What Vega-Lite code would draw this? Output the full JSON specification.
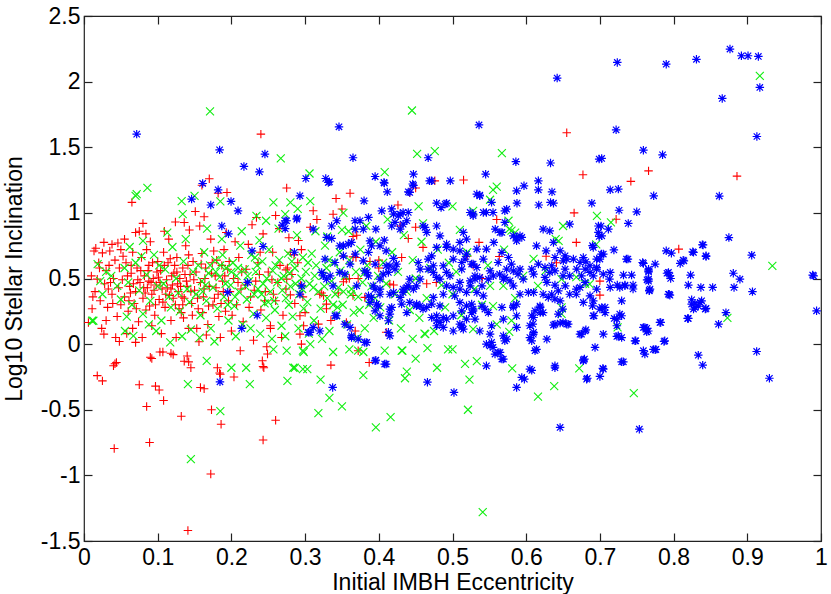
{
  "$schema": "https://vega.github.io/schema/vega-lite/v6.json",
  "width": 737,
  "height": 525,
  "autosize": "none",
  "padding": {"left": 84, "top": 16, "right": 10, "bottom": 53},
  "background": "white",
  "config": {
    "view": {"stroke": "#222222", "strokeWidth": 1.2},
    "font": "Liberation Sans",
    "axis": {
      "labelFont": "Liberation Sans", "titleFont": "Liberation Sans",
      "labelFontSize": 23, "titleFontSize": 23, "labelColor": "black", "titleColor": "black",
      "titleFontWeight": "normal", "grid": false, "domain": false,
      "tickColor": "#222222", "tickSize": -8, "tickWidth": 1.2,
      "labelFlush": false, "labelOverlap": false
    }
  },
  "datasets": {
    "red": [
      {"x":0.24,"y":1.6},{"x":0.17,"y":1.26},{"x":0.16,"y":1.21},{"x":0.275,"y":1.19},{"x":0.182,"y":1.15},{"x":0.194,"y":1.155},{"x":0.065,"y":1.08},{"x":0.151,"y":1.01},{"x":0.163,"y":0.97},{"x":0.234,"y":0.965},{"x":0.26,"y":0.98},{"x":0.08,"y":0.92},{"x":0.124,"y":0.93},{"x":0.136,"y":0.927},{"x":0.07,"y":0.85},{"x":0.084,"y":0.84},{"x":0.109,"y":0.86},
      {"x":0.006,"y":0.165},{"x":0.018,"y":-0.24},{"x":0.025,"y":-0.28},{"x":0.04,"y":-0.165},{"x":0.044,"y":-0.14},{"x":0.075,"y":-0.31},{"x":0.097,"y":-0.32},{"x":0.102,"y":-0.35},{"x":0.108,"y":-0.43},{"x":0.085,"y":-0.475},{"x":0.132,"y":-0.55},{"x":0.173,"y":-0.5},{"x":0.186,"y":-0.61},{"x":0.089,"y":-0.75},{"x":0.041,"y":-0.795},{"x":0.172,"y":-0.99},{"x":0.141,"y":-1.42},{"x":0.243,"y":-0.73},{"x":0.26,"y":-0.58},{"x":0.163,"y":-0.34},{"x":0.158,"y":-0.33},{"x":0.2035,"y":-0.25},{"x":0.142,"y":-0.135},{"x":0.145,"y":-0.18},{"x":0.181,"y":-0.18},{"x":0.184,"y":-0.22},{"x":0.242,"y":-0.127},{"x":0.243,"y":-0.17},{"x":0.092,"y":-0.11},{"x":0.107,"y":-0.06},{"x":0.121,"y":-0.08},
      {"x":0.0136,"y":0.71},{"x":0.027,"y":0.775},{"x":0.038,"y":0.76},{"x":0.05,"y":0.72},{"x":0.025,"y":0.695},{"x":0.018,"y":0.495},{"x":0.027,"y":0.076},{"x":0.043,"y":0.05},{"x":0.048,"y":0.02},{"x":0.07,"y":0.013},{"x":0.042,"y":-0.15},{"x":0.09,"y":-0.1},{"x":0.103,"y":-0.06},{"x":0.118,"y":-0.07},{"x":0.136,"y":-0.13},{"x":0.14,"y":-0.09},{"x":0.156,"y":0.018},{"x":0.185,"y":-0.23},{"x":0.244,"y":-0.18},{"x":0.249,"y":-0.075},{"x":0.253,"y":0.14},
      {"x":0.361,"y":1.15},{"x":0.342,"y":1.11},{"x":0.35,"y":1.03},{"x":0.338,"y":0.99},{"x":0.311,"y":1.016},{"x":0.316,"y":0.95},{"x":0.307,"y":0.89},{"x":0.426,"y":1.06},{"x":0.442,"y":1.156},{"x":0.476,"y":1.244},{"x":0.515,"y":1.25},{"x":0.655,"y":1.61},{"x":0.677,"y":1.29},{"x":0.665,"y":1.0},{"x":0.668,"y":0.775},{"x":0.627,"y":0.67},{"x":0.5635,"y":0.668},{"x":0.56,"y":0.95},{"x":0.536,"y":0.775},{"x":0.528,"y":0.6},{"x":0.52,"y":0.67},{"x":0.429,"y":0.9},{"x":0.45,"y":0.89},{"x":0.365,"y":0.82},{"x":0.37,"y":0.83},{"x":0.44,"y":0.805},{"x":0.46,"y":0.737},{"x":0.352,"y":0.67},{"x":0.365,"y":0.665},{"x":0.415,"y":0.457},{"x":0.431,"y":0.66},{"x":0.3225,"y":0.39},{"x":0.352,"y":0.475},{"x":0.478,"y":0.47},{"x":0.54,"y":0.5},{"x":0.641,"y":0.62},{"x":0.766,"y":1.32},{"x":0.742,"y":1.24},{"x":0.886,"y":1.28},{"x":0.722,"y":0.952},{"x":0.807,"y":0.724},{"x":0.7,"y":0.48},{"x":0.7,"y":0.373},
      {"x":0.291,"y":0.79},{"x":0.295,"y":0.72},{"x":0.28,"y":0.7},{"x":0.369,"y":0.66},{"x":0.388,"y":0.63},{"x":0.4,"y":0.64},{"x":0.274,"y":0.566},{"x":0.275,"y":0.495},{"x":0.356,"y":0.495},{"x":0.36,"y":0.5},{"x":0.372,"y":0.5},{"x":0.4,"y":0.58},{"x":0.42,"y":0.45},{"x":0.465,"y":0.46},{"x":0.32,"y":0.38},{"x":0.325,"y":0.37},{"x":0.345,"y":0.39},{"x":0.365,"y":0.37},{"x":0.381,"y":0.356},{"x":0.28,"y":0.375},{"x":0.293,"y":0.216},{"x":0.3,"y":0.24},{"x":0.329,"y":0.305},{"x":0.329,"y":0.27},{"x":0.318,"y":0.152},{"x":0.335,"y":0.18},{"x":0.356,"y":0.165},{"x":0.368,"y":0.1},{"x":0.293,"y":0.076},{"x":0.295,"y":0.0},{"x":0.372,"y":-0.05},{"x":0.41,"y":0.09},{"x":0.387,"y":-0.14},{"x":0.335,"y":-0.16},{"x":0.45,"y":1.19},
      {"x":0.01,"y":0.52},{"x":0.015,"y":0.4},{"x":0.02,"y":0.62},{"x":0.022,"y":0.33},{"x":0.028,"y":0.46},{"x":0.03,"y":0.56},{"x":0.032,"y":0.28},{"x":0.035,"y":0.71},{"x":0.038,"y":0.38},{"x":0.04,"y":0.5},{"x":0.042,"y":0.64},{"x":0.045,"y":0.21},{"x":0.047,"y":0.43},{"x":0.05,"y":0.3},{"x":0.011,"y":0.27},{"x":0.016,"y":0.73},{"x":0.024,"y":0.12},{"x":0.034,"y":0.6},{"x":0.046,"y":0.77},{"x":0.012,"y":0.36},{"x":0.03,"y":0.18},{"x":0.048,"y":0.58},
      {"x":0.052,"y":0.49},{"x":0.055,"y":0.36},{"x":0.057,"y":0.62},{"x":0.06,"y":0.25},{"x":0.062,"y":0.44},{"x":0.064,"y":0.54},{"x":0.066,"y":0.7},{"x":0.068,"y":0.31},{"x":0.07,"y":0.4},{"x":0.072,"y":0.58},{"x":0.074,"y":0.17},{"x":0.076,"y":0.47},{"x":0.078,"y":0.66},{"x":0.08,"y":0.35},{"x":0.082,"y":0.52},{"x":0.084,"y":0.26},{"x":0.086,"y":0.43},{"x":0.088,"y":0.6},{"x":0.09,"y":0.78},{"x":0.092,"y":0.38},{"x":0.094,"y":0.5},{"x":0.096,"y":0.22},{"x":0.098,"y":0.45},{"x":0.1,"y":0.63},{"x":0.058,"y":0.08},{"x":0.066,"y":0.12},{"x":0.079,"y":0.05},{"x":0.085,"y":0.72},{"x":0.092,"y":0.14},{"x":0.055,"y":0.8},{"x":0.075,"y":0.86},{"x":0.097,"y":0.3},{"x":0.087,"y":0.56},{"x":0.063,"y":0.39},{"x":0.073,"y":0.49},{"x":0.081,"y":0.43},{"x":0.091,"y":0.47},{"x":0.099,"y":0.55},
      {"x":0.102,"y":0.34},{"x":0.104,"y":0.56},{"x":0.106,"y":0.42},{"x":0.108,"y":0.7},{"x":0.11,"y":0.28},{"x":0.112,"y":0.49},{"x":0.114,"y":0.62},{"x":0.116,"y":0.37},{"x":0.118,"y":0.18},{"x":0.12,"y":0.45},{"x":0.122,"y":0.54},{"x":0.124,"y":0.3},{"x":0.126,"y":0.66},{"x":0.128,"y":0.4},{"x":0.13,"y":0.5},{"x":0.132,"y":0.24},{"x":0.134,"y":0.58},{"x":0.136,"y":0.35},{"x":0.138,"y":0.75},{"x":0.14,"y":0.44},{"x":0.142,"y":0.12},{"x":0.144,"y":0.53},{"x":0.146,"y":0.31},{"x":0.148,"y":0.63},{"x":0.15,"y":0.41},{"x":0.105,"y":0.08},{"x":0.115,"y":0.8},{"x":0.125,"y":0.05},{"x":0.135,"y":0.2},{"x":0.143,"y":0.87},{"x":0.111,"y":0.38},{"x":0.119,"y":0.52},{"x":0.127,"y":0.46},{"x":0.133,"y":0.36},{"x":0.141,"y":0.6},{"x":0.129,"y":0.27},{"x":0.117,"y":0.65},{"x":0.147,"y":0.22},{"x":0.103,"y":0.47},{"x":0.139,"y":0.48},
      {"x":0.152,"y":0.55},{"x":0.155,"y":0.27},{"x":0.158,"y":0.47},{"x":0.16,"y":0.69},{"x":0.162,"y":0.36},{"x":0.165,"y":0.58},{"x":0.168,"y":0.15},{"x":0.17,"y":0.44},{"x":0.172,"y":0.8},{"x":0.175,"y":0.3},{"x":0.178,"y":0.52},{"x":0.18,"y":0.64},{"x":0.182,"y":0.38},{"x":0.185,"y":0.05},{"x":0.188,"y":0.48},{"x":0.19,"y":0.72},{"x":0.192,"y":0.25},{"x":0.195,"y":0.57},{"x":0.198,"y":0.4},{"x":0.2,"y":0.1},{"x":0.157,"y":0.9},{"x":0.166,"y":0.07},{"x":0.174,"y":0.62},{"x":0.183,"y":0.21},{"x":0.193,"y":0.85},{"x":0.163,"y":0.42},{"x":0.177,"y":0.35},{"x":0.187,"y":0.6},{"x":0.196,"y":0.33},{"x":0.153,"y":0.12},
      {"x":0.203,"y":0.5},{"x":0.207,"y":0.3},{"x":0.21,"y":0.66},{"x":0.213,"y":0.42},{"x":0.216,"y":0.17},{"x":0.22,"y":0.57},{"x":0.223,"y":0.76},{"x":0.226,"y":0.36},{"x":0.23,"y":0.03},{"x":0.233,"y":0.48},{"x":0.236,"y":0.62},{"x":0.24,"y":0.26},{"x":0.243,"y":0.84},{"x":0.246,"y":0.4},{"x":0.25,"y":0.55},{"x":0.253,"y":0.12},{"x":0.256,"y":0.7},{"x":0.26,"y":0.33},{"x":0.263,"y":0.47},{"x":0.266,"y":0.6},{"x":0.27,"y":0.22},{"x":0.274,"y":0.42},{"x":0.278,"y":0.81},{"x":0.282,"y":0.53},{"x":0.286,"y":0.31},{"x":0.29,"y":0.62},{"x":0.294,"y":0.45},{"x":0.298,"y":0.14},{"x":0.212,"y":-0.05},{"x":0.228,"y":0.91},{"x":0.248,"y":-0.02},{"x":0.268,"y":0.05},{"x":0.285,"y":0.68},{"x":0.219,"y":0.45},{"x":0.238,"y":0.53},{"x":0.257,"y":0.38},{"x":0.276,"y":0.58},{"x":0.205,"y":0.78},{"x":0.265,"y":0.88},{"x":0.297,"y":0.36},
      {"x":0.021,"y":0.58},{"x":0.033,"y":0.42},{"x":0.039,"y":0.31},{"x":0.053,"y":0.67},{"x":0.059,"y":0.52},{"x":0.061,"y":0.33},{"x":0.067,"y":0.46},{"x":0.071,"y":0.27},{"x":0.077,"y":0.56},{"x":0.083,"y":0.39},{"x":0.089,"y":0.29},{"x":0.093,"y":0.62},{"x":0.095,"y":0.41},{"x":0.101,"y":0.51},{"x":0.107,"y":0.32},{"x":0.109,"y":0.6},{"x":0.113,"y":0.43},{"x":0.121,"y":0.35},{"x":0.123,"y":0.6},{"x":0.131,"y":0.44},{"x":0.137,"y":0.53},{"x":0.145,"y":0.4},{"x":0.149,"y":0.49},{"x":0.154,"y":0.35},{"x":0.159,"y":0.61},{"x":0.164,"y":0.5},{"x":0.169,"y":0.29},{"x":0.173,"y":0.54},{"x":0.179,"y":0.43},{"x":0.186,"y":0.31},{"x":0.191,"y":0.52},{"x":0.197,"y":0.63},{"x":0.201,"y":0.22},{"x":0.209,"y":0.47},{"x":0.214,"y":0.55},{"x":0.224,"y":0.28},{"x":0.231,"y":0.41},{"x":0.239,"y":0.7},{"x":0.245,"y":0.33},{"x":0.255,"y":0.49},{"x":0.036,"y":0.47},{"x":0.064,"y":0.6},{"x":0.088,"y":0.48},{"x":0.118,"y":0.42},{"x":0.126,"y":0.55},{"x":0.134,"y":0.3},{"x":0.142,"y":0.68},{"x":0.161,"y":0.24},{"x":0.176,"y":0.71},{"x":0.189,"y":0.4}
    ],
    "green": [
      {"x":0.171,"y":1.773},{"x":0.0715,"y":1.143},{"x":0.07,"y":1.13},{"x":0.086,"y":1.19},{"x":0.267,"y":1.415},{"x":0.1325,"y":1.09},{"x":0.15,"y":1.13},{"x":0.134,"y":0.99},{"x":0.185,"y":1.087},{"x":0.257,"y":1.08},{"x":0.28,"y":1.08},{"x":0.234,"y":0.977},{"x":0.247,"y":0.94},{"x":0.273,"y":0.99},{"x":0.0185,"y":0.61},{"x":0.08,"y":0.787},
      {"x":0.0127,"y":0.178},{"x":0.141,"y":-0.305},{"x":0.185,"y":-0.51},{"x":0.145,"y":-0.876},{"x":0.225,"y":-0.305},{"x":0.276,"y":-0.28},{"x":0.22,"y":-0.18},{"x":0.2,"y":-0.18},{"x":0.257,"y":-0.04},{"x":0.286,"y":-0.18},{"x":0.1665,"y":-0.127},{"x":0.0556,"y":0.1},{"x":0.067,"y":0.063},{"x":0.117,"y":0.013},
      {"x":0.445,"y":1.78},{"x":0.452,"y":1.45},{"x":0.476,"y":1.47},{"x":0.567,"y":1.455},{"x":0.408,"y":1.31},{"x":0.306,"y":1.3},{"x":0.555,"y":1.176},{"x":0.56,"y":1.2},{"x":0.551,"y":1.1},{"x":0.454,"y":1.05},{"x":0.5,"y":1.05},{"x":0.352,"y":1.0},{"x":0.307,"y":1.09},{"x":0.29,"y":1.03},{"x":0.528,"y":1.016},{"x":0.577,"y":0.876},{"x":0.585,"y":0.85},{"x":0.65,"y":0.9},{"x":0.51,"y":0.87},{"x":0.35,"y":0.87},{"x":0.33,"y":0.82},{"x":0.696,"y":0.977},{"x":0.695,"y":0.76},{"x":0.64,"y":0.8},{"x":0.61,"y":0.65},
      {"x":0.303,"y":-0.19},{"x":0.321,"y":-0.27},{"x":0.333,"y":-0.41},{"x":0.35,"y":-0.475},{"x":0.318,"y":-0.525},{"x":0.379,"y":-0.236},{"x":0.338,"y":-0.06},{"x":0.396,"y":-0.635},{"x":0.416,"y":-0.556},{"x":0.438,"y":-0.21},{"x":0.4355,"y":-0.26},{"x":0.45,"y":-0.11},{"x":0.479,"y":-0.18},{"x":0.463,"y":0.076},{"x":0.466,"y":-0.03},{"x":0.494,"y":-0.04},{"x":0.5,"y":-0.04},{"x":0.517,"y":-0.15},{"x":0.533,"y":-0.13},{"x":0.523,"y":-0.27},{"x":0.521,"y":-0.5},{"x":0.541,"y":-1.28},{"x":0.577,"y":0.094},{"x":0.581,"y":-0.185},{"x":0.616,"y":-0.4},{"x":0.638,"y":-0.32},{"x":0.672,"y":-0.185},{"x":0.432,"y":-0.05},{"x":0.408,"y":-0.05},{"x":0.379,"y":-0.06},{"x":0.36,"y":-0.04},{"x":0.307,"y":0.0},{"x":0.297,"y":-0.05},
      {"x":0.746,"y":-0.373},{"x":0.724,"y":0.127},{"x":0.873,"y":0.2},{"x":0.917,"y":2.044},{"x":0.934,"y":0.597},{"x":0.715,"y":0.927},{"x":0.686,"y":0.457},
      {"x":0.576,"y":0.94},{"x":0.58,"y":0.864},{"x":0.644,"y":0.787},{"x":0.596,"y":0.52},{"x":0.616,"y":0.444},{"x":0.569,"y":0.444},{"x":0.551,"y":0.444},{"x":0.555,"y":0.29},{"x":0.626,"y":0.558},{"x":0.648,"y":0.495},{"x":0.668,"y":0.51},{"x":0.68,"y":0.46},{"x":0.648,"y":0.28},{"x":0.648,"y":0.23},{"x":0.58,"y":0.18},{"x":0.528,"y":0.114},
      {"x":0.275,"y":-0.05},{"x":0.298,"y":-0.06},{"x":0.372,"y":-0.05},{"x":0.431,"y":-0.05},{"x":0.462,"y":0.08},{"x":0.446,"y":0.04},{"x":0.284,"y":-0.18},{"x":0.297,"y":-0.19},
      {"x":0.037,"y":0.52},{"x":0.045,"y":0.444},{"x":0.011,"y":0.178},{"x":0.025,"y":0.38},{"x":0.03,"y":0.55},{"x":0.05,"y":0.34},{"x":0.055,"y":0.58},{"x":0.06,"y":0.47},{"x":0.065,"y":0.3},{"x":0.07,"y":0.62},{"x":0.075,"y":0.41},{"x":0.08,"y":0.23},{"x":0.085,"y":0.53},{"x":0.09,"y":0.33},{"x":0.095,"y":0.68},{"x":0.1,"y":0.44},{"x":0.105,"y":0.18},{"x":0.11,"y":0.57},{"x":0.115,"y":0.36},{"x":0.12,"y":0.74},{"x":0.125,"y":0.5},{"x":0.13,"y":0.25},{"x":0.135,"y":0.63},{"x":0.14,"y":0.42},{"x":0.145,"y":0.11},{"x":0.148,"y":0.55},{"x":0.058,"y":0.21},{"x":0.078,"y":0.67},{"x":0.098,"y":0.1},{"x":0.118,"y":0.28},{"x":0.138,"y":0.8},{"x":0.108,"y":0.46},{"x":0.128,"y":0.39},{"x":0.088,"y":0.15},{"x":0.143,"y":0.32},{"x":0.022,"y":0.48},{"x":0.062,"y":0.74},{"x":0.113,"y":0.85},{"x":0.133,"y":0.06},{"x":0.102,"y":0.6},
      {"x":0.152,"y":0.38},{"x":0.155,"y":0.6},{"x":0.158,"y":0.22},{"x":0.16,"y":0.48},{"x":0.163,"y":0.7},{"x":0.166,"y":0.33},{"x":0.169,"y":0.54},{"x":0.172,"y":0.12},{"x":0.175,"y":0.43},{"x":0.178,"y":0.64},{"x":0.181,"y":0.27},{"x":0.184,"y":0.51},{"x":0.187,"y":0.8},{"x":0.19,"y":0.36},{"x":0.193,"y":0.58},{"x":0.196,"y":0.18},{"x":0.199,"y":0.45},{"x":0.157,"y":0.05},{"x":0.167,"y":0.88},{"x":0.177,"y":0.02},{"x":0.188,"y":0.68},{"x":0.195,"y":0.3},{"x":0.161,"y":0.4},{"x":0.179,"y":0.55},{"x":0.192,"y":0.46},{"x":0.171,"y":0.6},
      {"x":0.202,"y":0.62},{"x":0.204,"y":0.29},{"x":0.207,"y":0.52},{"x":0.21,"y":0.4},{"x":0.212,"y":0.75},{"x":0.215,"y":0.15},{"x":0.218,"y":0.57},{"x":0.221,"y":0.34},{"x":0.224,"y":0.48},{"x":0.227,"y":0.68},{"x":0.23,"y":0.23},{"x":0.233,"y":0.55},{"x":0.236,"y":0.42},{"x":0.239,"y":0.08},{"x":0.242,"y":0.63},{"x":0.245,"y":0.31},{"x":0.248,"y":0.5},{"x":0.206,"y":0.06},{"x":0.214,"y":0.86},{"x":0.226,"y":0.12},{"x":0.238,"y":0.79},{"x":0.247,"y":0.2},{"x":0.219,"y":0.44},{"x":0.231,"y":0.38},{"x":0.243,"y":0.46},{"x":0.209,"y":0.58},{"x":0.235,"y":0.6},
      {"x":0.251,"y":0.72},{"x":0.253,"y":0.4},{"x":0.256,"y":0.56},{"x":0.259,"y":0.26},{"x":0.262,"y":0.47},{"x":0.265,"y":0.64},{"x":0.268,"y":0.14},{"x":0.271,"y":0.52},{"x":0.274,"y":0.35},{"x":0.277,"y":0.69},{"x":0.28,"y":0.44},{"x":0.283,"y":0.21},{"x":0.286,"y":0.58},{"x":0.289,"y":0.83},{"x":0.292,"y":0.38},{"x":0.295,"y":0.5},{"x":0.298,"y":0.27},{"x":0.255,"y":0.04},{"x":0.264,"y":0.88},{"x":0.273,"y":0.06},{"x":0.282,"y":0.63},{"x":0.291,"y":0.12},{"x":0.258,"y":0.33},{"x":0.269,"y":0.41},{"x":0.279,"y":0.54},{"x":0.297,"y":0.66},{"x":0.287,"y":0.46},
      {"x":0.301,"y":0.55},{"x":0.303,"y":0.32},{"x":0.306,"y":0.46},{"x":0.309,"y":0.69},{"x":0.312,"y":0.18},{"x":0.315,"y":0.6},{"x":0.318,"y":0.4},{"x":0.321,"y":0.27},{"x":0.324,"y":0.52},{"x":0.327,"y":0.75},{"x":0.33,"y":0.35},{"x":0.333,"y":0.1},{"x":0.336,"y":0.48},{"x":0.339,"y":0.62},{"x":0.342,"y":0.22},{"x":0.345,"y":0.43},{"x":0.348,"y":0.56},{"x":0.305,"y":0.08},{"x":0.314,"y":0.86},{"x":0.323,"y":0.04},{"x":0.338,"y":0.3},{"x":0.347,"y":0.7},{"x":0.311,"y":0.43},{"x":0.329,"y":0.58},{"x":0.341,"y":0.38},
      {"x":0.351,"y":0.3},{"x":0.354,"y":0.52},{"x":0.357,"y":0.15},{"x":0.36,"y":0.64},{"x":0.363,"y":0.42},{"x":0.366,"y":0.24},{"x":0.369,"y":0.55},{"x":0.372,"y":0.36},{"x":0.375,"y":0.72},{"x":0.378,"y":0.47},{"x":0.381,"y":0.12},{"x":0.384,"y":0.6},{"x":0.387,"y":0.3},{"x":0.39,"y":0.44},{"x":0.393,"y":0.2},{"x":0.396,"y":0.78},{"x":0.399,"y":0.52},{"x":0.359,"y":0.86},{"x":0.371,"y":0.05},{"x":0.383,"y":0.9},{"x":0.395,"y":0.35},{"x":0.362,"y":0.38},
      {"x":0.402,"y":0.28},{"x":0.406,"y":0.62},{"x":0.41,"y":0.46},{"x":0.414,"y":0.18},{"x":0.418,"y":0.7},{"x":0.422,"y":0.38},{"x":0.426,"y":0.55},{"x":0.43,"y":0.12},{"x":0.434,"y":0.83},{"x":0.438,"y":0.4},{"x":0.442,"y":0.26},{"x":0.446,"y":0.64},{"x":0.45,"y":0.5},{"x":0.455,"y":0.2},{"x":0.46,"y":0.92},{"x":0.465,"y":0.35},{"x":0.47,"y":0.58},{"x":0.475,"y":0.1},{"x":0.48,"y":0.72},{"x":0.485,"y":0.45},{"x":0.49,"y":0.28},{"x":0.495,"y":0.62},{"x":0.5,"y":0.38},{"x":0.412,"y":0.95},{"x":0.458,"y":0.78},
      {"x":0.505,"y":0.55},{"x":0.512,"y":0.22},{"x":0.52,"y":0.7},{"x":0.53,"y":0.42},{"x":0.54,"y":0.3},{"x":0.548,"y":0.6},{"x":0.56,"y":0.15},{"x":0.57,"y":0.72},{"x":0.585,"y":0.35},
      {"x":0.165,"y":0.45},{"x":0.185,"y":0.6},{"x":0.205,"y":0.36},{"x":0.222,"y":0.52},{"x":0.241,"y":0.38},{"x":0.26,"y":0.6},{"x":0.278,"y":0.3},{"x":0.296,"y":0.42},{"x":0.313,"y":0.52},{"x":0.332,"y":0.64},{"x":0.352,"y":0.4},{"x":0.374,"y":0.26},{"x":0.2,"y":0.55},{"x":0.232,"y":0.66},{"x":0.268,"y":0.5},{"x":0.304,"y":0.62},{"x":0.326,"y":0.44},{"x":0.344,"y":0.28},{"x":0.38,"y":0.54},{"x":0.25,"y":0.32}
    ],
    "blue": [
      {"x":0.0715,"y":1.6},{"x":0.184,"y":1.48},{"x":0.217,"y":1.354},{"x":0.2455,"y":1.448},{"x":0.238,"y":1.313},{"x":0.161,"y":1.224},{"x":0.182,"y":1.176},{"x":0.146,"y":1.105},{"x":0.172,"y":1.06},{"x":0.1995,"y":1.087},{"x":0.209,"y":1.016},{"x":0.187,"y":0.9},{"x":0.196,"y":0.84},{"x":0.228,"y":0.71},{"x":0.243,"y":0.744},{"x":0.222,"y":0.47},{"x":0.195,"y":0.394},{"x":0.273,"y":0.94},{"x":0.289,"y":0.96},{"x":0.273,"y":0.88},{"x":0.2855,"y":0.7},{"x":0.1845,"y":-0.287},{"x":0.214,"y":0.12},{"x":0.235,"y":0.22},{"x":0.269,"y":0.907},
      {"x":0.346,"y":1.656},{"x":0.365,"y":1.42},{"x":0.467,"y":1.42},{"x":0.536,"y":1.67},{"x":0.642,"y":2.027},{"x":0.586,"y":1.39},{"x":0.633,"y":1.38},{"x":0.699,"y":1.41},{"x":0.301,"y":1.262},{"x":0.328,"y":1.262},{"x":0.333,"y":1.237},{"x":0.395,"y":1.277},{"x":0.407,"y":1.232},{"x":0.4115,"y":1.16},{"x":0.447,"y":1.295},{"x":0.446,"y":1.22},{"x":0.469,"y":1.244},{"x":0.497,"y":1.244},{"x":0.545,"y":1.295},{"x":0.537,"y":1.13},{"x":0.587,"y":1.168},{"x":0.597,"y":1.206},{"x":0.6165,"y":1.244},{"x":0.6165,"y":1.176},{"x":0.635,"y":1.16},{"x":0.5875,"y":1.074},{"x":0.617,"y":1.06},{"x":0.637,"y":1.074},{"x":0.689,"y":1.074},{"x":0.44,"y":1.16},{"x":0.38,"y":1.092},{"x":0.293,"y":1.13},{"x":0.4785,"y":1.074},{"x":0.492,"y":1.074},{"x":0.4845,"y":1.04},{"x":0.404,"y":1.016},{"x":0.4175,"y":1.03},{"x":0.3315,"y":1.232},{"x":0.4717,"y":1.244},
      {"x":0.8765,"y":2.248},{"x":0.892,"y":2.197},{"x":0.901,"y":2.197},{"x":0.915,"y":2.192},{"x":0.7236,"y":2.146},{"x":0.79,"y":2.133},{"x":0.831,"y":2.17},{"x":0.917,"y":1.956},{"x":0.866,"y":1.872},{"x":0.913,"y":1.582},{"x":0.722,"y":1.633},{"x":0.7024,"y":1.415},{"x":0.759,"y":1.478},{"x":0.785,"y":1.442},{"x":0.714,"y":1.176},{"x":0.725,"y":1.181},{"x":0.773,"y":1.13},{"x":0.862,"y":1.128},{"x":0.726,"y":1.02},{"x":0.75,"y":1.008},{"x":0.7015,"y":0.9},{"x":0.7115,"y":0.876},{"x":0.7385,"y":0.92},{"x":0.699,"y":0.82},{"x":0.875,"y":0.812},{"x":0.69,"y":0.75},{"x":0.84,"y":0.756},{"x":0.702,"y":0.686},{"x":0.719,"y":0.718},{"x":0.738,"y":0.648},{"x":0.759,"y":0.615},{"x":0.775,"y":0.61},{"x":0.797,"y":0.693},{"x":0.809,"y":0.615},{"x":0.814,"y":0.635},{"x":0.827,"y":0.699},{"x":0.844,"y":0.673},{"x":0.906,"y":0.678},{"x":0.881,"y":0.54},{"x":0.89,"y":0.495},{"x":0.9887,"y":0.526},{"x":0.743,"y":0.526},{"x":0.766,"y":0.55},{"x":0.766,"y":0.48},{"x":0.791,"y":0.54},{"x":0.795,"y":0.52},{"x":0.823,"y":0.526},{"x":0.82,"y":0.45},{"x":0.837,"y":0.432},{"x":0.853,"y":0.432},{"x":0.882,"y":0.432},{"x":0.907,"y":0.4},{"x":0.727,"y":0.432},{"x":0.734,"y":0.444},{"x":0.745,"y":0.42},{"x":0.767,"y":0.406},{"x":0.794,"y":0.38},{"x":0.839,"y":0.757},{"x":0.844,"y":0.668},{"x":0.826,"y":0.703},{"x":0.813,"y":0.64},{"x":0.766,"y":0.558},{"x":0.764,"y":0.49},{"x":0.767,"y":0.41},{"x":0.793,"y":0.546},{"x":0.796,"y":0.5},{"x":0.795,"y":0.373},{"x":0.8245,"y":0.338},{"x":0.829,"y":0.312},{"x":0.838,"y":0.33},{"x":0.827,"y":0.267},{"x":0.8335,"y":0.29},{"x":0.843,"y":0.267},{"x":0.819,"y":0.196},{"x":0.99,"y":0.52},
      {"x":0.691,"y":0.33},{"x":0.7,"y":0.267},{"x":0.707,"y":0.28},{"x":0.7295,"y":0.33},{"x":0.692,"y":0.216},{"x":0.675,"y":0.076},{"x":0.681,"y":0.109},{"x":0.723,"y":0.059},{"x":0.7295,"y":0.216},{"x":0.723,"y":0.19},{"x":0.6775,"y":-0.12},{"x":0.683,"y":-0.26},{"x":0.7,"y":-0.246},{"x":0.704,"y":-0.185},{"x":0.7295,"y":-0.135},{"x":0.7486,"y":0.025},{"x":0.761,"y":-0.076},{"x":0.7635,"y":0.12},{"x":0.7657,"y":0.1},{"x":0.776,"y":-0.04},{"x":0.7825,"y":0.165},{"x":0.788,"y":0.025},{"x":0.7535,"y":-0.648},{"x":0.82,"y":0.196},{"x":0.8245,"y":0.305},{"x":0.829,"y":0.28},{"x":0.836,"y":0.318},{"x":0.844,"y":0.272},{"x":0.8335,"y":-0.084},{"x":0.8395,"y":-0.16},{"x":0.861,"y":0.152},{"x":0.871,"y":0.24},{"x":0.9127,"y":-0.056},{"x":0.93,"y":-0.26},{"x":0.994,"y":0.254},{"x":0.761,"y":0.127},{"x":0.787,"y":0.02},{"x":0.775,"y":-0.043},
      {"x":0.633,"y":1.08},{"x":0.537,"y":1.135},{"x":0.546,"y":1.003},{"x":0.555,"y":1.003},{"x":0.571,"y":1.016},{"x":0.571,"y":0.927},{"x":0.567,"y":0.851},{"x":0.623,"y":0.876},{"x":0.632,"y":0.863},{"x":0.5916,"y":0.825},{"x":0.594,"y":0.813},{"x":0.659,"y":0.914},{"x":0.698,"y":0.9},{"x":0.7025,"y":0.825},{"x":0.556,"y":0.775},{"x":0.546,"y":0.724},{"x":0.5825,"y":0.825},{"x":0.587,"y":0.787},{"x":0.637,"y":0.775},{"x":0.627,"y":0.711},{"x":0.646,"y":0.711},{"x":0.639,"y":0.66},{"x":0.655,"y":0.648},{"x":0.6775,"y":0.66},{"x":0.673,"y":0.622},{"x":0.681,"y":0.627},{"x":0.7046,"y":0.686},{"x":0.7,"y":0.648},{"x":0.714,"y":0.546},{"x":0.736,"y":0.648},{"x":0.758,"y":0.622},{"x":0.79,"y":0.711},{"x":0.766,"y":0.571},{"x":0.766,"y":0.495},{"x":0.768,"y":0.419},{"x":0.732,"y":0.526},{"x":0.7236,"y":0.45},{"x":0.734,"y":0.45},{"x":0.745,"y":0.45},{"x":0.793,"y":0.38},{"x":0.6956,"y":0.584},{"x":0.7046,"y":0.533},{"x":0.713,"y":0.495},{"x":0.6956,"y":0.419},{"x":0.714,"y":0.432},{"x":0.6775,"y":0.318},{"x":0.6866,"y":0.368},{"x":0.659,"y":0.38},{"x":0.668,"y":0.38},{"x":0.673,"y":0.432},{"x":0.68,"y":0.47},{"x":0.639,"y":0.45},{"x":0.653,"y":0.444},{"x":0.7025,"y":0.28},{"x":0.707,"y":0.24},{"x":0.727,"y":0.229},{"x":0.7195,"y":0.196},{"x":0.723,"y":0.14},{"x":0.725,"y":0.063},{"x":0.759,"y":0.127},{"x":0.7635,"y":0.094},{"x":0.7815,"y":0.165},{"x":0.7476,"y":0.025},{"x":0.7725,"y":-0.04},{"x":0.759,"y":-0.05},{"x":0.646,"y":0.16},{"x":0.655,"y":0.152},{"x":0.637,"y":0.145},{"x":0.6495,"y":0.267},{"x":0.6436,"y":0.229},{"x":0.673,"y":0.076},{"x":0.68,"y":0.1},{"x":0.7046,"y":0.076},{"x":0.7295,"y":0.05},{"x":0.6934,"y":-0.025},{"x":0.7046,"y":-0.19},{"x":0.7318,"y":-0.135},{"x":0.6775,"y":-0.127},{"x":0.639,"y":-0.165},{"x":0.6075,"y":-0.2},{"x":0.594,"y":-0.254},{"x":0.567,"y":-0.114},{"x":0.5577,"y":-0.076},{"x":0.612,"y":-0.05},{"x":0.628,"y":0.038},{"x":0.6075,"y":0.025},{"x":0.6096,"y":0.076},{"x":0.605,"y":0.14},{"x":0.609,"y":0.152},{"x":0.569,"y":0.063},{"x":0.571,"y":0.025},{"x":0.551,"y":0.076},{"x":0.553,"y":0.013},{"x":0.555,"y":-0.025},{"x":0.562,"y":-0.063},{"x":0.569,"y":0.19},{"x":0.553,"y":0.14},{"x":0.5305,"y":0.19},{"x":0.54,"y":0.29},{"x":0.544,"y":0.267},{"x":0.5418,"y":0.368},{"x":0.526,"y":0.305},{"x":0.567,"y":0.28},{"x":0.5825,"y":0.28},{"x":0.587,"y":0.305},{"x":0.5916,"y":0.38},{"x":0.603,"y":0.394},{"x":0.623,"y":0.38},{"x":0.63,"y":0.356},{"x":0.6187,"y":0.29},{"x":0.623,"y":0.24},{"x":0.612,"y":0.254},{"x":0.6075,"y":0.216},{"x":0.6346,"y":0.38},{"x":0.6436,"y":0.406},{"x":0.639,"y":0.343},{"x":0.646,"y":0.33},
      {"x":0.5305,"y":0.495},{"x":0.537,"y":0.508},{"x":0.5486,"y":0.495},{"x":0.5554,"y":0.52},{"x":0.564,"y":0.533},{"x":0.571,"y":0.508},{"x":0.578,"y":0.482},{"x":0.5735,"y":0.571},{"x":0.58,"y":0.61},{"x":0.576,"y":0.66},{"x":0.5825,"y":0.558},{"x":0.589,"y":0.533},{"x":0.5916,"y":0.571},{"x":0.596,"y":0.495},{"x":0.6075,"y":0.571},{"x":0.6165,"y":0.61},{"x":0.61,"y":0.533},{"x":0.6255,"y":0.584},{"x":0.6346,"y":0.597},{"x":0.632,"y":0.546},{"x":0.639,"y":0.558},{"x":0.6255,"y":0.508},{"x":0.6504,"y":0.635},{"x":0.6527,"y":0.571},{"x":0.659,"y":0.52},{"x":0.6685,"y":0.571},{"x":0.68,"y":0.571},{"x":0.675,"y":0.52},{"x":0.6866,"y":0.546},{"x":0.6956,"y":0.571},
      {"x":0.528,"y":0.61},{"x":0.524,"y":0.444},{"x":0.533,"y":0.394},{"x":0.54,"y":0.444},{"x":0.528,"y":0.254},{"x":0.537,"y":0.1},{"x":0.5486,"y":0.24},{"x":0.551,"y":-0.013},{"x":0.546,"y":-0.165},{"x":0.551,"y":0.558},{"x":0.562,"y":0.622},{"x":0.567,"y":0.699},{"x":0.5418,"y":0.648},{"x":0.533,"y":0.724},{"x":0.558,"y":0.876},
      {"x":0.4075,"y":1.227},{"x":0.447,"y":1.21},{"x":0.442,"y":1.156},{"x":0.49,"y":1.067},{"x":0.533,"y":1.143},{"x":0.42,"y":0.99},{"x":0.4265,"y":0.978},{"x":0.433,"y":1.003},{"x":0.44,"y":1.003},{"x":0.438,"y":0.94},{"x":0.422,"y":0.927},{"x":0.4175,"y":0.9},{"x":0.429,"y":0.876},{"x":0.433,"y":0.914},{"x":0.46,"y":0.9},{"x":0.465,"y":0.851},{"x":0.275,"y":0.94},{"x":0.2886,"y":0.952},{"x":0.311,"y":0.876},{"x":0.336,"y":0.9},{"x":0.343,"y":0.94},{"x":0.3745,"y":0.94},{"x":0.386,"y":0.965},{"x":0.368,"y":0.876},{"x":0.379,"y":0.876},{"x":0.396,"y":0.876},{"x":0.336,"y":0.805},{"x":0.3586,"y":0.762},{"x":0.347,"y":0.749},{"x":0.388,"y":0.787},{"x":0.39,"y":0.749},{"x":0.386,"y":0.699},{"x":0.4075,"y":0.792},{"x":0.4016,"y":0.749},{"x":0.41,"y":0.711},{"x":0.42,"y":0.653},{"x":0.415,"y":0.597},{"x":0.424,"y":0.61},{"x":0.422,"y":0.571},{"x":0.413,"y":0.546},{"x":0.406,"y":0.533},{"x":0.4016,"y":0.495},{"x":0.395,"y":0.419},{"x":0.4016,"y":0.38},{"x":0.39,"y":0.356},{"x":0.397,"y":0.305},{"x":0.3994,"y":0.292},{"x":0.415,"y":0.38},{"x":0.42,"y":0.394},{"x":0.429,"y":0.356},{"x":0.431,"y":0.305},{"x":0.433,"y":0.394},{"x":0.442,"y":0.495},{"x":0.438,"y":0.432},{"x":0.447,"y":0.419},{"x":0.451,"y":0.444},{"x":0.456,"y":0.495},{"x":0.4536,"y":0.622},{"x":0.456,"y":0.571},{"x":0.467,"y":0.571},{"x":0.474,"y":0.546},{"x":0.4785,"y":0.508},{"x":0.467,"y":0.648},{"x":0.4717,"y":0.673},{"x":0.4785,"y":0.737},{"x":0.492,"y":0.762},{"x":0.501,"y":0.724},{"x":0.51,"y":0.775},{"x":0.5147,"y":0.851},{"x":0.524,"y":1.003},{"x":0.528,"y":0.978},{"x":0.519,"y":0.686},{"x":0.5125,"y":0.622},{"x":0.5125,"y":0.571},{"x":0.517,"y":0.648},{"x":0.526,"y":0.61},{"x":0.533,"y":0.584},{"x":0.5305,"y":0.52},{"x":0.524,"y":0.482},{"x":0.4875,"y":0.597},{"x":0.492,"y":0.546},{"x":0.4966,"y":0.52},{"x":0.483,"y":0.495},{"x":0.492,"y":0.444},{"x":0.501,"y":0.432},{"x":0.51,"y":0.419},{"x":0.503,"y":0.368},{"x":0.51,"y":0.318},{"x":0.519,"y":0.292},{"x":0.5125,"y":0.254},{"x":0.526,"y":0.24},{"x":0.519,"y":0.19},{"x":0.5125,"y":0.14},{"x":0.501,"y":0.216},{"x":0.4875,"y":0.203},{"x":0.4785,"y":0.216},{"x":0.483,"y":0.292},{"x":0.4717,"y":0.305},{"x":0.465,"y":0.28},{"x":0.474,"y":0.356},{"x":0.4875,"y":0.38},
      {"x":0.501,"y":0.1},{"x":0.5125,"y":0.127},{"x":0.483,"y":0.165},{"x":0.4785,"y":0.14},{"x":0.413,"y":0.09},{"x":0.415,"y":0.063},{"x":0.4514,"y":0.305},{"x":0.456,"y":0.292},{"x":0.44,"y":0.444},{"x":0.433,"y":0.419},{"x":0.354,"y":0.152},{"x":0.372,"y":0.038},{"x":0.381,"y":0.013},{"x":0.363,"y":0.063},{"x":0.361,"y":0.127},{"x":0.395,"y":-0.127},{"x":0.408,"y":-0.152},{"x":0.368,"y":0.686},{"x":0.352,"y":0.673},{"x":0.327,"y":0.648},{"x":0.3225,"y":0.546},{"x":0.329,"y":0.495},{"x":0.334,"y":0.52},{"x":0.2954,"y":0.444},{"x":0.293,"y":0.38},{"x":0.311,"y":0.127},{"x":0.3045,"y":0.09},{"x":0.3405,"y":0.216},{"x":0.381,"y":0.558},{"x":0.386,"y":0.52},{"x":0.395,"y":0.61},{"x":0.379,"y":0.635},{"x":0.361,"y":0.61},{"x":0.354,"y":0.533},{"x":0.3405,"y":0.622},{"x":0.347,"y":0.546},{"x":0.37,"y":0.444},{"x":0.3925,"y":0.444},{"x":0.386,"y":0.368},{"x":0.395,"y":0.254},{"x":0.4016,"y":0.216},{"x":0.415,"y":0.229},{"x":0.4175,"y":0.28},
      {"x":0.3293,"y":0.813},{"x":0.352,"y":0.749},{"x":0.363,"y":0.775},{"x":0.3677,"y":0.94},{"x":0.429,"y":0.99},{"x":0.4627,"y":0.889},{"x":0.4785,"y":0.9},{"x":0.483,"y":0.825},{"x":0.492,"y":0.737},{"x":0.519,"y":0.8},{"x":0.51,"y":0.711},{"x":0.528,"y":0.99},{"x":0.5418,"y":1.003},{"x":0.553,"y":1.08},{"x":0.5735,"y":1.028},{"x":0.5645,"y":0.851},{"x":0.587,"y":0.813},{"x":0.614,"y":0.749},{"x":0.6527,"y":0.673},{"x":0.664,"y":0.648},{"x":0.691,"y":0.737},{"x":0.6866,"y":0.597},{"x":0.6956,"y":0.648},{"x":0.698,"y":0.851},
      {"x":0.325,"y":0.52},{"x":0.338,"y":0.444},{"x":0.3836,"y":0.546},{"x":0.4016,"y":0.419},{"x":0.41,"y":0.597},{"x":0.474,"y":0.597},{"x":0.501,"y":0.648},{"x":0.51,"y":0.47},{"x":0.519,"y":0.394},{"x":0.569,"y":0.495},{"x":0.5825,"y":0.444},{"x":0.61,"y":0.394},{"x":0.628,"y":0.47},{"x":0.65,"y":0.52},{"x":0.668,"y":0.419},{"x":0.691,"y":0.52},
      {"x":0.3374,"y":-0.33},{"x":0.363,"y":0.05},{"x":0.3836,"y":0.013},{"x":0.396,"y":-0.122},{"x":0.41,"y":-0.152},{"x":0.466,"y":-0.29},{"x":0.502,"y":-0.368},{"x":0.546,"y":0.0},{"x":0.5645,"y":-0.063},{"x":0.569,"y":-0.114},{"x":0.5735,"y":0.038},{"x":0.587,"y":0.127},{"x":0.587,"y":0.216},{"x":0.5825,"y":0.292},{"x":0.605,"y":0.05},{"x":0.61,"y":0.09},{"x":0.614,"y":-0.04},{"x":0.605,"y":-0.19},{"x":0.5975,"y":-0.267},{"x":0.587,"y":-0.33},{"x":0.639,"y":-0.18},{"x":0.646,"y":-0.635},{"x":0.679,"y":-0.114},{"x":0.682,"y":-0.267},{"x":0.691,"y":0.216},{"x":0.69,"y":0.292},{"x":0.639,"y":0.152},{"x":0.65,"y":0.165},{"x":0.657,"y":0.152},{"x":0.619,"y":0.24},{"x":0.61,"y":0.203},{"x":0.619,"y":0.28},{"x":0.492,"y":0.19},{"x":0.4875,"y":0.127},{"x":0.4785,"y":0.178},{"x":0.51,"y":0.152},{"x":0.5147,"y":0.114},{"x":0.528,"y":0.267},{"x":0.4717,"y":0.203},{"x":0.46,"y":0.267},{"x":0.451,"y":0.292},{"x":0.442,"y":0.318},{"x":0.438,"y":0.24},{"x":0.413,"y":0.178},{"x":0.415,"y":0.267},{"x":0.388,"y":0.318},{"x":0.3066,"y":0.09},{"x":0.32,"y":0.1},{"x":0.343,"y":0.216}
    ]
  },
  "layer": [
    {
      "data": {"name": "red"},
      "mark": {"type": "point", "shape": "M-1,0H1M0,-1V1", "filled": false, "stroke": "#ff0000", "size": 72, "strokeWidth": 1.1, "opacity": 1},
      "encoding": {
        "x": {
          "field": "x", "type": "quantitative",
          "scale": {"domain": [0, 1], "nice": false, "zero": false},
          "axis": {"orient": "bottom", "title": "Initial IMBH Eccentricity", "values": [0, 0.1, 0.2, 0.3, 0.4, 0.5, 0.6, 0.7, 0.8, 0.9, 1], "labelExpr": "'' + datum.value", "labelPadding": 13, "titlePadding": 2}
        },
        "y": {
          "field": "y", "type": "quantitative",
          "scale": {"domain": [-1.5, 2.5], "nice": false, "zero": false},
          "axis": {"orient": "left", "title": "Log10 Stellar Inclination", "values": [-1.5, -1, -0.5, 0, 0.5, 1, 1.5, 2, 2.5], "labelExpr": "'' + datum.value", "labelPadding": 12, "titlePadding": 14}
        }
      }
    },
    {
      "data": {"name": "green"},
      "mark": {"type": "point", "shape": "M-1,-1L1,1M-1,1L1,-1", "filled": false, "stroke": "#11ee11", "size": 64, "strokeWidth": 1.1, "opacity": 1},
      "encoding": {
        "x": {"field": "x", "type": "quantitative", "axis": {"orient": "top", "title": null, "labels": false, "values": [0, 0.1, 0.2, 0.3, 0.4, 0.5, 0.6, 0.7, 0.8, 0.9, 1]}},
        "y": {"field": "y", "type": "quantitative", "axis": {"orient": "right", "title": null, "labels": false, "values": [-1.5, -1, -0.5, 0, 0.5, 1, 1.5, 2, 2.5]}}
      }
    },
    {
      "data": {"name": "blue"},
      "mark": {"type": "point", "shape": "M-1,0H1M0,-1V1M-0.75,-0.75L0.75,0.75M-0.75,0.75L0.75,-0.75", "filled": false, "stroke": "#0000ff", "size": 72, "strokeWidth": 1.2, "opacity": 1},
      "encoding": {
        "x": {"field": "x", "type": "quantitative", "axis": null},
        "y": {"field": "y", "type": "quantitative", "axis": null}
      }
    }
  ],
  "resolve": {"axis": {"x": "independent", "y": "independent"}}
}
